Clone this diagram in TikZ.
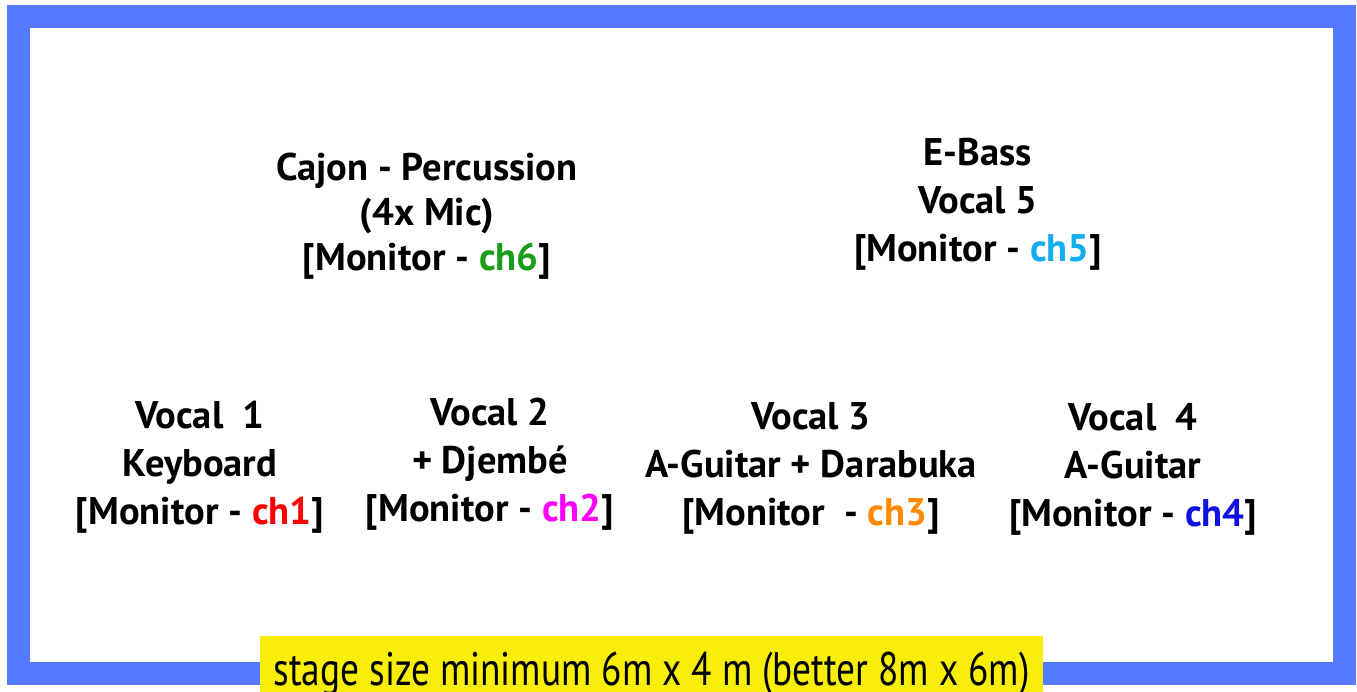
\documentclass[tikz,border=0pt]{standalone}
\usepackage{fontspec}
\setmainfont{PT Sans}
\definecolor{frameblue}{RGB}{85,122,255}
\definecolor{labelyellow}{RGB}{248,238,10}
\definecolor{cha}{RGB}{255,0,0}
\definecolor{chb}{RGB}{255,0,255}
\definecolor{chc}{RGB}{255,138,0}
\definecolor{chd}{RGB}{16,16,224}
\definecolor{che}{RGB}{20,174,240}
\definecolor{chf}{RGB}{24,158,24}
\tikzset{
  blocktext/.style={align=center, inner sep=0pt, font=\fontsize{38.5}{48}\selectfont\bfseries},
  cajontext/.style={blocktext, font=\fontsize{38.5}{45}\selectfont\bfseries},
  stagelabel/.style={fill=labelyellow, inner sep=0pt, minimum width=783pt, text height=49pt, text depth=7pt, anchor=base, font=\fontsize{47}{48}\selectfont}
}
\begin{document}
\begin{tikzpicture}[x=1pt,y=-1pt]
\useasboundingbox (0,0) rectangle (1357,692);
\draw[frameblue, line width=23pt] (18.5,17) rectangle (1344,673.5);
\node[cajontext] (cajon) at (427,216) {Cajon - Percussion\\(4x Mic)\\{}[Monitor - \textcolor{chf}{ch6}]};
\node[blocktext] (bass) at (978,204) {E-Bass\\Vocal 5\\{}[Monitor - \textcolor{che}{ch5}]};
\node[blocktext] (vone) at (200,467) {Vocal\ \ 1\\Keyboard\\{}[Monitor - \textcolor{cha}{ch1}]};
\node[blocktext] (vtwo) at (490,464) {Vocal 2\\+ Djembé\\{}[Monitor - \textcolor{chb}{ch2}]};
\node[blocktext] (vthree) at (811,468) {Vocal 3\\A-Guitar + Darabuka\\{}[Monitor\ \ - \textcolor{chc}{ch3}]};
\node[blocktext] (vfour) at (1133,469) {Vocal\ \ 4\\A-Guitar\\{}[Monitor - \textcolor{chd}{ch4}]};
\node[stagelabel] (stage) at (651.5,685) {\scalebox{0.795}[1]{stage size minimum 6m x 4 m (better 8m x 6m)}};
\end{tikzpicture}
\end{document}
